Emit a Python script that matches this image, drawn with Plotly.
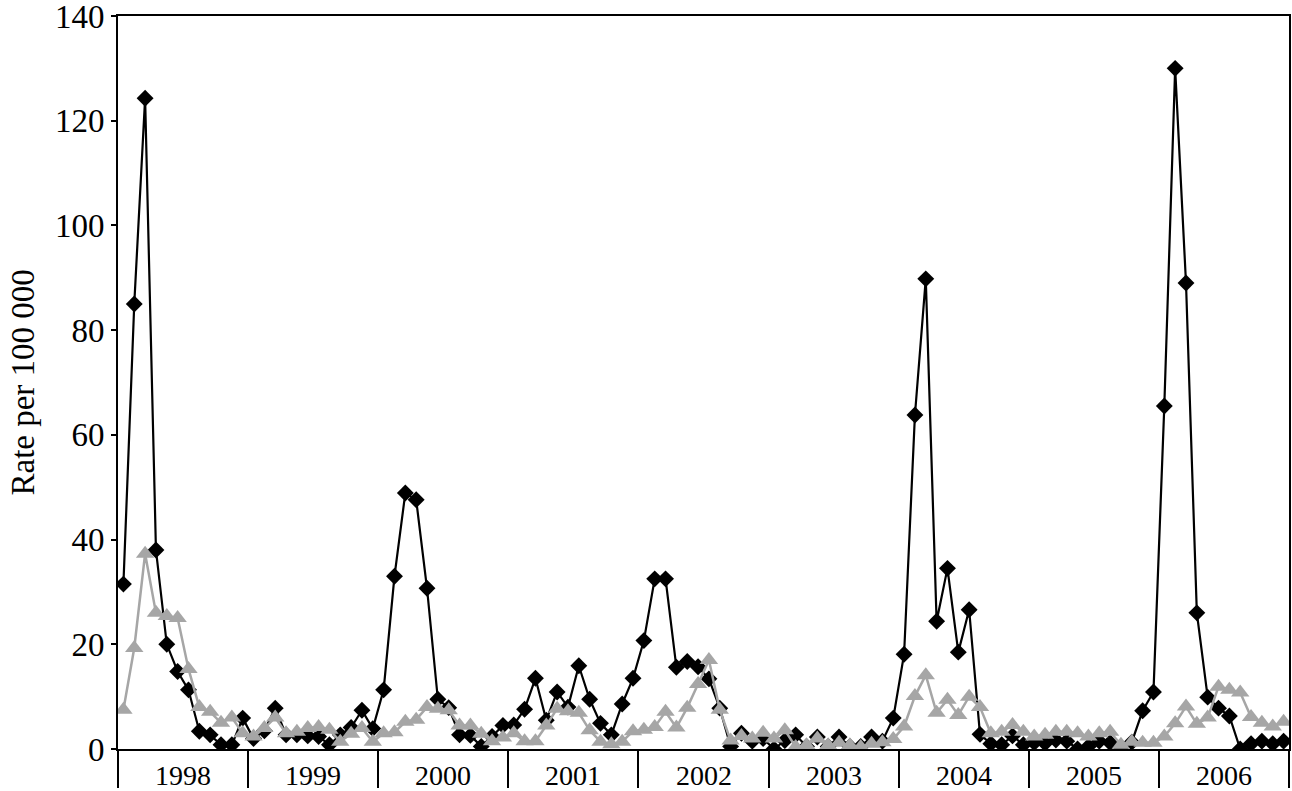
import plotly.graph_objects as go

years = ["1998", "1999", "2000", "2001", "2002", "2003", "2004", "2005", "2006"]

# Monthly rates per 100 000, Jan 1998 - Dec 2006
black_series = [
    31.5, 85.0, 124.3, 38.0, 20.0, 14.8, 11.3, 3.4, 2.7, 0.8, 0.8, 5.9,      # 1998
    2.0, 3.5, 7.8, 2.7, 2.7, 2.5, 2.4, 0.8, 2.7, 4.1, 7.4, 3.9,              # 1999
    11.3, 33.0, 48.9, 47.6, 30.7, 9.5, 7.9, 2.7, 2.6, 0.5, 2.4, 4.5,          # 2000
    4.6, 7.6, 13.5, 5.5, 10.9, 8.0, 15.9, 9.5, 4.9, 2.7, 8.6, 13.5,           # 2001
    20.7, 32.5, 32.5, 15.6, 16.7, 15.7, 13.4, 7.8, 0.5, 3.0, 1.5, 2.0,        # 2002
    0.0, 1.6, 2.7, 0.5, 2.3, 0.5, 2.3, 0.5, 0.5, 2.3, 1.5, 5.9,               # 2003
    18.1, 63.8, 89.8, 24.4, 34.5, 18.5, 26.6, 2.8, 1.0, 0.8, 2.5, 0.8,        # 2004
    1.2, 1.1, 1.7, 1.5, 0.0, 0.5, 1.5, 1.2, 0.3, 1.3, 7.3, 10.9,              # 2005
    65.5, 130.0, 89.0, 26.0, 9.9, 7.8, 6.3, 0.0, 1.0, 1.5, 1.0, 1.5,          # 2006
]

gray_series = [
    7.5, 19.3, 37.3, 26.0, 25.4, 25.0, 15.3, 8.0, 7.1, 5.0, 6.0, 3.0,         # 1998
    2.4, 4.0, 6.0, 3.0, 3.3, 4.0, 4.2, 3.7, 1.4, 2.9, 4.0, 1.4,               # 1999
    3.0, 3.2, 5.2, 5.6, 8.0, 7.7, 7.4, 4.5, 4.5, 2.9, 1.5, 2.2,               # 2000
    3.0, 1.5, 1.5, 4.5, 7.7, 7.2, 6.9, 3.6, 1.4, 0.9, 1.4, 3.4,               # 2001
    3.7, 4.2, 7.1, 4.1, 7.9, 12.4, 17.0, 7.5, 1.6, 2.5, 2.0, 3.1,             # 2002
    2.0, 3.6, 0.4, 0.7, 2.0, 0.7, 1.2, 0.7, 0.4, 1.0, 1.3, 1.9,               # 2003
    4.3, 10.1, 14.1, 6.9, 9.4, 6.5, 10.0, 8.0, 3.0, 3.3, 4.6, 3.3,            # 2004
    2.4, 2.7, 3.3, 3.3, 3.0, 2.4, 3.0, 3.3, 0.8, 1.4, 1.2, 1.2,               # 2005
    2.4, 4.9, 8.1, 4.8, 6.0, 11.9, 11.3, 10.8, 6.1, 5.0, 4.3, 5.2,            # 2006
]

y_ticks = [0, 20, 40, 60, 80, 100, 120, 140]
y_title = "Rate per 100 000"

n_months = len(black_series)
month_pos = [i + 0.5 for i in range(n_months)]
year_bounds = [12 * k for k in range(len(years) + 1)]
year_centers = [12 * k + 6 for k in range(len(years))]

FONT = "Liberation Serif"

fig = go.Figure()
fig.add_trace(go.Scatter(
    x=month_pos, y=black_series, mode="lines+markers",
    line=dict(color="black", width=2.2),
    marker=dict(symbol="diamond", size=13, color="black"),
    hoverinfo="skip",
))
fig.add_trace(go.Scatter(
    x=month_pos, y=gray_series, mode="lines+markers",
    line=dict(color="#A6A6A6", width=2.5),
    marker=dict(symbol="triangle-up", size=16, color="#A6A6A6"),
    hoverinfo="skip",
))

annotations = [
    dict(x=c, y=0, xref="x", yref="paper", text=t, showarrow=False,
         xanchor="center", yanchor="middle", yshift=-26,
         font=dict(size=28, family=FONT, color="black"))
    for c, t in zip(year_centers, years)
]
annotations.append(dict(
    x=0, y=0.5, xref="paper", yref="paper", text=y_title, showarrow=False,
    textangle=-90, xanchor="center", yanchor="middle", xshift=-96,
    font=dict(size=33, family=FONT, color="black"),
))

fig.update_layout(
    width=1292, height=791,
    margin=dict(l=118, r=3, t=16, b=42, autoexpand=False),
    plot_bgcolor="white", paper_bgcolor="white",
    showlegend=False,
    font=dict(family=FONT, color="black"),
    annotations=annotations,
)

fig.update_xaxes(
    range=[0, n_months],
    tickmode="array", tickvals=year_bounds, showticklabels=False,
    ticks="outside", ticklen=37, tickwidth=2, tickcolor="black",
    showline=True, linecolor="black", linewidth=2, mirror=True,
    showgrid=False, zeroline=False, automargin=False,
)

fig.update_yaxes(
    range=[0, 140],
    tickmode="array", tickvals=y_ticks,
    ticks="outside", ticklen=5, tickwidth=2, tickcolor="black",
    tickfont=dict(size=33, family=FONT, color="black"),
    ticklabeloverflow="allow",
    showline=True, linecolor="black", linewidth=2, mirror=True,
    showgrid=False, zeroline=False, automargin=False,
)

fig.write_html("out.html", config={"displayModeBar": False},
               post_script="document.body.style.margin='0';")
